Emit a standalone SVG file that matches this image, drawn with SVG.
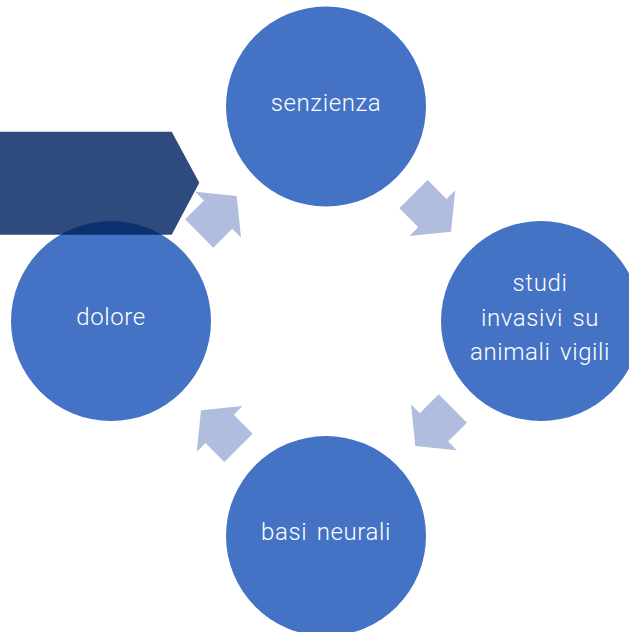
<svg xmlns="http://www.w3.org/2000/svg" width="629" height="632" viewBox="0 0 629 632">
<style>
.node{fill:#4472C4}
.lbl{fill:#FFFFFF;font-family:Roboto,"Liberation Sans",sans-serif;font-weight:300;font-size:24px;text-anchor:middle;letter-spacing:0.6px;word-spacing:3px}
.arr{fill:#B0BDDF}
</style>
<defs>
<polygon id="arrowShape" points="0,-20 26.7,-20 26.7,-32.4 53,0 26.7,32.4 26.7,20 0,20"/>
</defs>
<rect width="629" height="632" fill="#FFFFFF"/>
<g id="connectors">
<use href="#arrowShape" class="arr" transform="translate(199.2,233.5) rotate(-45)"/>
<use href="#arrowShape" class="arr" transform="rotate(90 326 321) translate(199.2,233.5) rotate(-45)"/>
<use href="#arrowShape" class="arr" transform="rotate(180 326 321) translate(199.2,233.5) rotate(-45)"/>
<use href="#arrowShape" class="arr" transform="rotate(270 326 321) translate(199.2,233.5) rotate(-45)"/>
</g>
<g id="senzienza">
<circle class="node" cx="326" cy="106.5" r="100"/>
<text class="lbl" x="326" y="111">senzienza</text>
</g>
<g id="studi">
<circle class="node" cx="541" cy="321" r="100"/>
<text class="lbl" x="540" y="291">studi</text>
<text class="lbl" x="540" y="325.5">invasivi su</text>
<text class="lbl" x="540" y="360">animali vigili</text>
</g>
<g id="basi">
<circle class="node" cx="326" cy="536" r="100"/>
<text class="lbl" x="326" y="540">basi neurali</text>
</g>
<g id="dolore">
<circle class="node" cx="111" cy="321" r="100"/>
<text class="lbl" x="111" y="325">dolore</text>
</g>
<g id="banner">
<polygon points="0,131.7 171.7,131.7 199.3,182.7 171.7,234.7 0,234.7" fill="#01225F" fill-opacity="0.82"/>
</g>
</svg>
